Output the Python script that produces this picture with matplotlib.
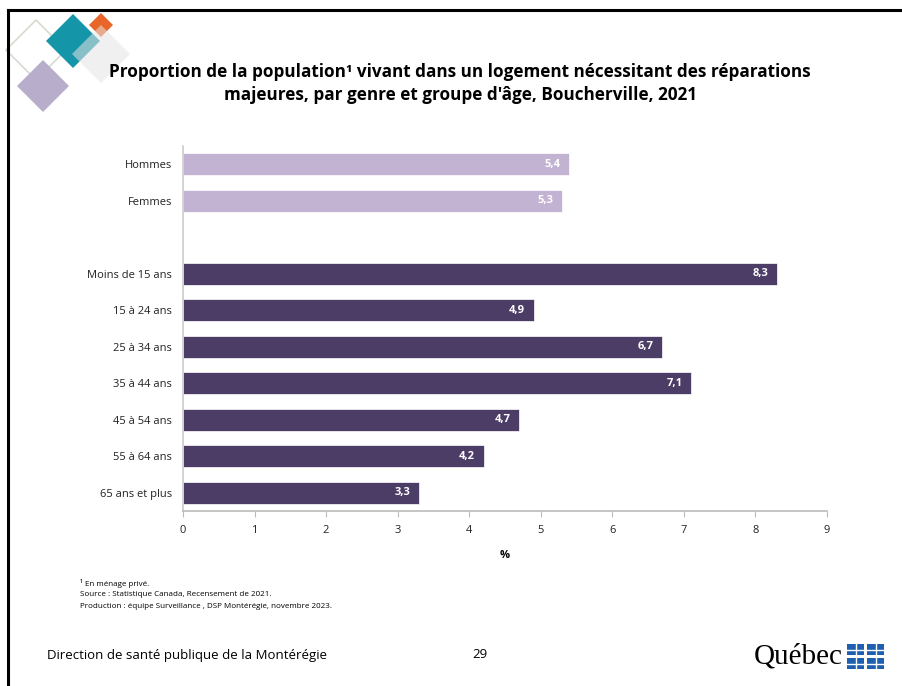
import matplotlib.pyplot as plt
from matplotlib.patches import Polygon, Rectangle
from matplotlib.lines import Line2D

categories = ["Hommes", "Femmes", "", "Moins de 15 ans", "15 à 24 ans", "25 à 34 ans",
              "35 à 44 ans", "45 à 54 ans", "55 à 64 ans", "65 ans et plus"]
values = [5.4, 5.3, None, 8.3, 4.9, 6.7, 7.1, 4.7, 4.2, 3.3]
labels = ["5,4", "5,3", "", "8,3", "4,9", "6,7", "7,1", "4,7", "4,2", "3,3"]
groups = ["genre", "genre", None, "age", "age", "age", "age", "age", "age", "age"]

colors = {"genre": "#c3b3d3", "age": "#4c3d66"}
font = ["Open Sans", "DejaVu Sans"]
plt.rcParams['font.family'] = font

W, H = 902, 686
fig = plt.figure(figsize=(W / 100, H / 100), dpi=100)


def fx(px):
    return px / W


def fy(py):
    return 1 - py / H


# slide frame (top and left edges)
fig.add_artist(Line2D([fx(8), 1], [fy(9.5), fy(9.5)], color="black", lw=2.2))
fig.add_artist(Line2D([fx(8), fx(8)], [fy(9.5), 0], color="black", lw=2.2))


# decorative diamonds at top left
def diamond(cx, cy, r, **kw):
    pts = [(fx(cx), fy(cy - r)), (fx(cx + r), fy(cy)), (fx(cx), fy(cy + r)), (fx(cx - r), fy(cy))]
    fig.add_artist(Polygon(pts, closed=True, transform=fig.transFigure, **kw))


diamond(36, 50, 30, facecolor="none", edgecolor="#d4dccf", lw=1.2)
diamond(43, 86, 26, facecolor="#b8aecb", edgecolor="none")
diamond(73, 41, 27, facecolor="#1596a8", edgecolor="none")
diamond(101, 25, 12, facecolor="#e8662a", edgecolor="none")
diamond(101, 54, 29, facecolor="#e6e4e4", edgecolor="none", alpha=0.55)

fig.text(0.51, fy(72), "Proportion de la population¹ vivant dans un logement nécessitant des réparations",
         ha="center", va="center", fontsize=12.3, fontweight="bold")
fig.text(0.51, fy(95), "majeures, par genre et groupe d'âge, Boucherville, 2021",
         ha="center", va="center", fontsize=12.3, fontweight="bold")

ax = fig.add_axes([fx(183), fy(511), fx(827) - fx(183), (511 - 146) / H])

for i, (v, g, lab) in enumerate(zip(values, groups, labels)):
    if v is None:
        continue
    ax.barh(i, v, height=0.6, color=colors[g], edgecolor="white", linewidth=0.5)
    ax.text(v - 0.12, i, lab, ha="right", va="center", color="white",
            fontsize=8, fontweight="bold")

ax.set_xlim(0, 9)
ax.set_ylim(len(categories) - 0.5, -0.5)
ax.set_yticks(range(len(categories)))
ax.set_yticklabels(categories, fontsize=8, color="#222222")
ax.tick_params(axis="y", length=0, pad=8)
ax.set_xticks(range(10))
ax.tick_params(axis="x", length=4, color="#bbbbbb", labelsize=8, pad=6, labelcolor="#222222")
ax.set_xlabel("%", fontsize=8, fontweight="bold", labelpad=10)
for s in ["top", "right"]:
    ax.spines[s].set_visible(False)
ax.spines["left"].set_color("#cccccc")
ax.spines["bottom"].set_color("#bbbbbb")
ax.spines["left"].set_linewidth(1.2)
ax.spines["bottom"].set_linewidth(1.2)

# footnotes
fig.text(fx(80), fy(583), "¹ En ménage privé.", fontsize=5.8, va="center")
fig.text(fx(80), fy(595), "Source : Statistique Canada, Recensement de 2021.", fontsize=5.8, va="center")
fig.text(fx(80), fy(606), "Production : équipe Surveillance , DSP Montérégie, novembre 2023.",
         fontsize=5.8, va="center")

fig.text(fx(47), fy(655), "Direction de santé publique de la Montérégie", fontsize=9.5, va="center")
fig.text(fx(480), fy(655), "29", fontsize=9.5, va="center", ha="center")

# Québec logo
fig.text(fx(754), fy(657), "Québec", fontsize=21, va="center", ha="left",
         family=["Liberation Serif", "DejaVu Serif"])
for bx, by in [(847, 644), (867, 644), (847, 658), (867, 658)]:
    fig.add_artist(Rectangle((fx(bx), fy(by + 11)), fx(17), 11 / H, transform=fig.transFigure,
                             facecolor="#1f5fb0", edgecolor="none"))
    fig.add_artist(Line2D([fx(bx + 8.5), fx(bx + 8.5)], [fy(by + 11), fy(by)], color="white", lw=1))
    fig.add_artist(Line2D([fx(bx), fx(bx + 17)], [fy(by + 5.5), fy(by + 5.5)], color="white", lw=1))

fig.savefig("out.png", dpi=100)
